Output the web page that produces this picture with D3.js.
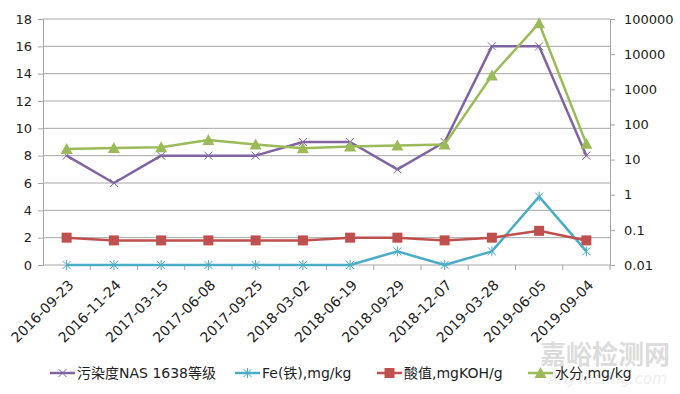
<!DOCTYPE html>
<html>
<head>
<meta charset="utf-8">
<script src="https://cdn.jsdelivr.net/npm/d3@7"></script>
<style>
  body { margin: 0; background: #fff; }
  text { font-family: "DejaVu Sans", "Noto Sans CJK SC", sans-serif; fill: #222; }
</style>
</head>
<body>
<div id="chart"></div>
<script>
// chart size
let w = 680;
let h = 394;
let padLeft = 43, padRight = 610, padTop = 19, padBottom = 265;

// data
let dates = ["2016-09-23", "2016-11-24", "2017-03-15", "2017-06-08", "2017-09-25", "2018-03-02",
  "2018-06-19", "2018-09-29", "2018-12-07", "2019-03-28", "2019-06-05", "2019-09-04"];
let nasGrade = [8, 6, 8, 8, 8, 9, 9, 7, 9, 16, 16, 8];
let iron = [0, 0, 0, 0, 0, 0, 0, 1, 0, 1, 5, 1];
let acidValue = [2, 1.8, 1.8, 1.8, 1.8, 1.8, 2, 2, 1.8, 2, 2.5, 1.8];
let water = [20, 21.5, 22.5, 36, 27, 21, 23.5, 25, 27, 2470, 76000, 28];
let leftTicks = [0, 2, 4, 6, 8, 10, 12, 14, 16, 18];
let rightTicks = [0.01, 0.1, 1, 10, 100, 1000, 10000, 100000];
let seriesNames = ["污染度NAS 1638等级", "Fe(铁),mg/kg", "酸值,mgKOH/g", "水分,mg/kg"];

let colors = ["#8064A2", "#4BACC6", "#C0504D", "#9BBB59"];

let svg = d3.select("#chart").append("svg")
  .attr("width", w)
  .attr("height", h);

let xScale = d3.scaleBand().domain(dates).range([padLeft, padRight]);
let yScale = d3.scaleLinear().domain([0, 18]).range([padBottom, padTop]);
let yLog = d3.scaleLog().domain([0.01, 100000]).range([padBottom, padTop]);
let xc = d => xScale(d) + xScale.bandwidth() / 2;

// gridlines
svg.append("g")
  .selectAll("line")
  .data(leftTicks.slice(1))
  .enter()
  .append("line")
  .attr("x1", padLeft).attr("x2", padRight)
  .attr("y1", d => yScale(d)).attr("y2", d => yScale(d))
  .attr("stroke", "#a6a6a6").attr("stroke-width", 1);

// left axis
let yAxis = svg.append("g")
  .attr("transform", "translate(" + padLeft + ",0)")
  .call(d3.axisLeft(yScale).tickValues(leftTicks).tickSize(5).tickPadding(6));
yAxis.select(".domain").attr("stroke", "#a6a6a6");
yAxis.selectAll(".tick line").attr("stroke", "#a6a6a6");
yAxis.selectAll("text").attr("font-size", "13px");

// right axis
let yAxisR = svg.append("g")
  .attr("transform", "translate(" + padRight + ",0)")
  .call(d3.axisRight(yLog).tickValues(rightTicks).tickFormat(d => String(d)).tickSize(5).tickPadding(9));
yAxisR.select(".domain").attr("stroke", "#a6a6a6");
yAxisR.selectAll(".tick line").attr("stroke", "#a6a6a6");
yAxisR.selectAll("text").attr("font-size", "13px");

// bottom axis with ticks between categories
let xAxis = svg.append("g")
  .attr("transform", "translate(0," + padBottom + ")");
xAxis.append("line")
  .attr("x1", padLeft).attr("x2", padRight)
  .attr("stroke", "#a6a6a6");
xAxis.selectAll(".sep")
  .data(dates)
  .enter()
  .append("line")
  .attr("x1", d => xScale(d) + xScale.bandwidth()).attr("x2", d => xScale(d) + xScale.bandwidth())
  .attr("y1", 0).attr("y2", 5)
  .attr("stroke", "#a6a6a6");
xAxis.selectAll("text")
  .data(dates)
  .enter()
  .append("text")
  .attr("transform", d => "translate(" + (xc(d) + 8) + ",21) rotate(-45)")
  .attr("text-anchor", "end")
  .attr("font-size", "14px")
  .text(d => d);

// series lines
let seriesList = [
  { values: nasGrade, scale: yScale, color: colors[0], marker: "x" },
  { values: iron, scale: yScale, color: colors[1], marker: "star" },
  { values: acidValue, scale: yScale, color: colors[2], marker: "square" },
  { values: water, scale: yLog, color: colors[3], marker: "triangle" }
];

function drawMarker(g, type, color) {
  if (type === "x") {
    g.append("path").attr("d", "M-4,-4L4,4M-4,4L4,-4").attr("stroke", color).attr("stroke-width", 1).attr("fill", "none");
  } else if (type === "star") {
    g.append("path").attr("d", "M-4,-4L4,4M-4,4L4,-4M0,-5L0,5").attr("stroke", color).attr("stroke-width", 1).attr("fill", "none");
  } else if (type === "square") {
    g.append("rect").attr("x", -5).attr("y", -5).attr("width", 10).attr("height", 10).attr("fill", color);
  } else {
    g.append("path").attr("d", "M0,-6L6,5L-6,5Z").attr("fill", color);
  }
}

seriesList.forEach(function (s) {
  let line = d3.line()
    .x((d, i) => xc(dates[i]))
    .y(d => s.scale(d));
  svg.append("path")
    .datum(s.values)
    .attr("d", line)
    .attr("fill", "none")
    .attr("stroke", s.color)
    .attr("stroke-width", 2.5)
    .attr("stroke-linejoin", "round");
  svg.append("g")
    .selectAll("g")
    .data(s.values)
    .enter()
    .append("g")
    .attr("transform", (d, i) => "translate(" + xc(dates[i]) + "," + s.scale(d) + ")")
    .each(function () { drawMarker(d3.select(this), s.marker, s.color); });
});

// watermark
svg.append("text")
  .attr("x", 540).attr("y", 364)
  .attr("font-size", "26px")
  .attr("font-weight", "bold")
  .style("fill", "#dcdcdc")
  .text("嘉峪检测网");
svg.append("text")
  .attr("x", 548).attr("y", 384)
  .attr("font-size", "15px")
  .attr("font-style", "italic")
  .style("fill", "#eeeeee")
  .text("AnyTesting.com");

// legend
let legendX = [50, 235, 377, 528];
let legend = svg.append("g");
seriesList.forEach(function (s, i) {
  let g = legend.append("g").attr("transform", "translate(" + legendX[i] + ",373)");
  g.append("line").attr("x1", 0).attr("x2", 25).attr("stroke", s.color).attr("stroke-width", 2.5);
  let m = g.append("g").attr("transform", "translate(12.5,0)");
  drawMarker(m, s.marker, s.color);
  g.append("text")
    .attr("x", 27).attr("y", 5)
    .attr("font-size", "14px")
    .text(seriesNames[i]);
});
</script>
</body>
</html>
